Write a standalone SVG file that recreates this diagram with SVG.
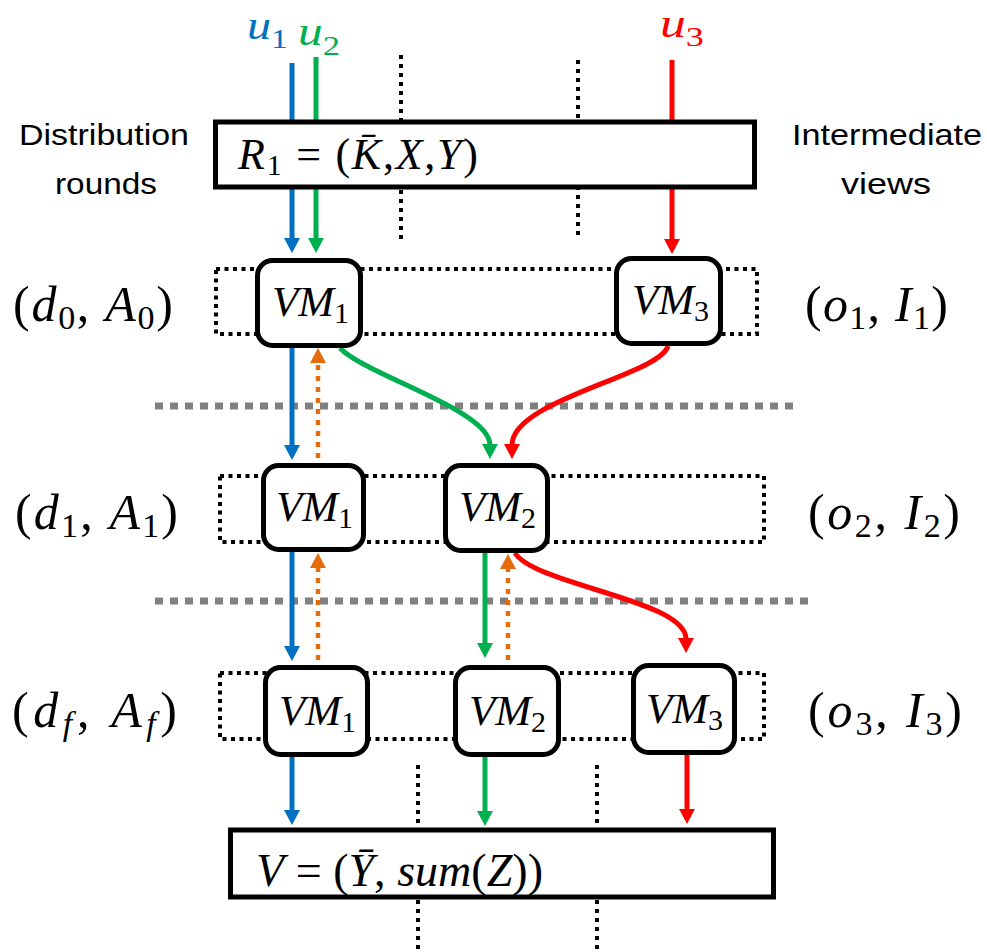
<svg xmlns="http://www.w3.org/2000/svg" width="987" height="952" viewBox="0 0 987 952">
<style>
.bg{fill:#fff}
.sep{stroke:#000;stroke-width:4;stroke-dasharray:4 5;fill:none}
.gray{stroke:#808080;stroke-width:7;stroke-dasharray:8 7;fill:none}
.frame{fill:none;stroke:#000;stroke-width:4;stroke-dasharray:4 4.5}
.box{fill:#fff;stroke:#000;stroke-width:5}
.vm{fill:#fff;stroke:#000;stroke-width:5}
.m{font-family:"Liberation Serif","Times New Roman",serif;fill:#000}
.i{font-style:italic}
.lbl{font-family:"Liberation Sans",Arial,sans-serif;font-size:30px;fill:#000}
.c{fill:none;stroke-width:5}
.cb{stroke:#0070C0}.cg{stroke:#00B050}.cr{stroke:#FF0000}
.co{stroke:#E46C0A;stroke-width:4.5;stroke-dasharray:5 6}
</style>
<defs>
<marker id="ab" markerUnits="userSpaceOnUse" viewBox="0 0 15 16" markerWidth="15" markerHeight="16" refX="1" refY="8" orient="auto"><path d="M0,0 L15,8 L0,16 z" fill="#0070C0"/></marker>
<marker id="ag" markerUnits="userSpaceOnUse" viewBox="0 0 15 16" markerWidth="15" markerHeight="16" refX="1" refY="8" orient="auto"><path d="M0,0 L15,8 L0,16 z" fill="#00B050"/></marker>
<marker id="ar" markerUnits="userSpaceOnUse" viewBox="0 0 15 16" markerWidth="15" markerHeight="16" refX="1" refY="8" orient="auto"><path d="M0,0 L15,8 L0,16 z" fill="#FF0000"/></marker>
<marker id="ao" markerUnits="userSpaceOnUse" viewBox="0 0 15 16" markerWidth="15" markerHeight="16" refX="1" refY="8" orient="auto"><path d="M0,0 L15,8 L0,16 z" fill="#E46C0A"/></marker>
</defs>
<rect class="bg" x="0" y="0" width="987" height="952"/>

<g id="separators">
<line class="sep" x1="401" y1="55" x2="401" y2="240"/>
<line class="sep" x1="578" y1="60" x2="578" y2="240"/>
<line class="sep" x1="418" y1="765" x2="418" y2="952"/>
<line class="sep" x1="597" y1="765" x2="597" y2="952"/>
<line class="gray" x1="155" y1="406" x2="795" y2="406"/>
<line class="gray" x1="155" y1="601" x2="810" y2="601"/>
</g>

<g id="frames">
<rect class="frame" x="216" y="269" width="541" height="65"/>
<rect class="frame" x="220" y="476" width="544" height="66"/>
<rect class="frame" x="220" y="673" width="544" height="66"/>
</g>

<g id="connectors">
<path class="c cb" d="M292,63 L292,239" marker-end="url(#ab)"/>
<path class="c cg" d="M316,57 L316,239" marker-end="url(#ag)"/>
<path class="c cr" d="M672,60 L672,240" marker-end="url(#ar)"/>
<path class="c cb" d="M292,348 L292,446" marker-end="url(#ab)"/>
<path class="c co" d="M318,458 L318,362" marker-end="url(#ao)"/>
<path class="c cg" d="M340,348 C365,375 490,410 490,445" marker-end="url(#ag)"/>
<path class="c cr" d="M668,346 C660,375 512,400 512,445" marker-end="url(#ar)"/>
<path class="c cb" d="M292,552 L292,647" marker-end="url(#ab)"/>
<path class="c co" d="M318,660 L318,567" marker-end="url(#ao)"/>
<path class="c cg" d="M485,553 L485,644" marker-end="url(#ag)"/>
<path class="c co" d="M508,660 L508,568" marker-end="url(#ao)"/>
<path class="c cr" d="M515,553 C535,585 686,600 686,639" marker-end="url(#ar)"/>
<path class="c cb" d="M292,757 L292,811" marker-end="url(#ab)"/>
<path class="c cg" d="M485,757 L485,812" marker-end="url(#ag)"/>
<path class="c cr" d="M687,755 L687,810" marker-end="url(#ar)"/>
</g>

<g id="inputs">
<text class="m" x="247" y="39" font-size="40" style="fill:#0070C0" textLength="41" lengthAdjust="spacingAndGlyphs"><tspan class="i">u</tspan><tspan font-size="28" dy="9">1</tspan></text>
<text class="m" x="298" y="45" font-size="40" style="fill:#00B050" textLength="42" lengthAdjust="spacingAndGlyphs"><tspan class="i">u</tspan><tspan font-size="28" dy="10">2</tspan></text>
<text class="m" x="660" y="37" font-size="40" style="fill:#FF0000" textLength="44" lengthAdjust="spacingAndGlyphs"><tspan class="i">u</tspan><tspan font-size="28" dy="9">3</tspan></text>
</g>

<g id="side-labels">
<text class="lbl" x="19" y="145" textLength="170" lengthAdjust="spacingAndGlyphs">Distribution</text>
<text class="lbl" x="55" y="194" textLength="102" lengthAdjust="spacingAndGlyphs">rounds</text>
<text class="lbl" x="792" y="145" textLength="190" lengthAdjust="spacingAndGlyphs">Intermediate</text>
<text class="lbl" x="841" y="194" textLength="90" lengthAdjust="spacingAndGlyphs">views</text>
</g>

<g id="round-labels">
<text class="m" x="13" y="321" font-size="50" textLength="160" lengthAdjust="spacing">(<tspan class="i">d</tspan><tspan font-size="34" dy="8">0</tspan><tspan dy="-8">, </tspan><tspan class="i">A</tspan><tspan font-size="34" dy="8">0</tspan><tspan dy="-8">)</tspan></text>
<text class="m" x="15" y="529" font-size="50" textLength="163" lengthAdjust="spacing">(<tspan class="i">d</tspan><tspan font-size="34" dy="8">1</tspan><tspan dy="-8">, </tspan><tspan class="i">A</tspan><tspan font-size="34" dy="8">1</tspan><tspan dy="-8">)</tspan></text>
<text class="m" x="12" y="727" font-size="50" textLength="165" lengthAdjust="spacing">(<tspan class="i">d</tspan><tspan class="i" font-size="34" dy="8">f</tspan><tspan dy="-8">, </tspan><tspan class="i">A</tspan><tspan class="i" font-size="34" dy="8">f</tspan><tspan dy="-8">)</tspan></text>
<text class="m" x="805" y="321" font-size="50" textLength="143" lengthAdjust="spacing">(<tspan class="i">o</tspan><tspan font-size="34" dy="8">1</tspan><tspan dy="-8">, </tspan><tspan class="i">I</tspan><tspan font-size="34" dy="8">1</tspan><tspan dy="-8">)</tspan></text>
<text class="m" x="808" y="529" font-size="50" textLength="152" lengthAdjust="spacing">(<tspan class="i">o</tspan><tspan font-size="34" dy="8">2</tspan><tspan dy="-8">, </tspan><tspan class="i">I</tspan><tspan font-size="34" dy="8">2</tspan><tspan dy="-8">)</tspan></text>
<text class="m" x="808" y="727" font-size="50" textLength="154" lengthAdjust="spacing">(<tspan class="i">o</tspan><tspan font-size="34" dy="8">3</tspan><tspan dy="-8">, </tspan><tspan class="i">I</tspan><tspan font-size="34" dy="8">3</tspan><tspan dy="-8">)</tspan></text>
</g>

<g id="R1">
<rect class="box" x="215.5" y="122" width="539" height="65"/>
<text class="m" x="238" y="169" font-size="44" textLength="240" lengthAdjust="spacing"><tspan class="i">R</tspan><tspan font-size="30" dy="6">1</tspan><tspan dy="-6"> = (</tspan><tspan class="i">K̄</tspan>,<tspan class="i">X</tspan>,<tspan class="i">Y</tspan>)</text>
</g>

<g id="r1-vm1">
<rect class="vm" x="257.5" y="260.5" width="103" height="85" rx="15"/>
<text class="m" x="272" y="316" font-size="43"><tspan class="i">VM</tspan><tspan font-size="30" dy="7">1</tspan></text>
</g>
<g id="r1-vm3">
<rect class="vm" x="616.5" y="258.5" width="104" height="85" rx="15"/>
<text class="m" x="632" y="314" font-size="43"><tspan class="i">VM</tspan><tspan font-size="30" dy="7">3</tspan></text>
</g>
<g id="r2-vm1">
<rect class="vm" x="263.5" y="465.5" width="100" height="84" rx="15"/>
<text class="m" x="276" y="521" font-size="43"><tspan class="i">VM</tspan><tspan font-size="30" dy="7">1</tspan></text>
</g>
<g id="r2-vm2">
<rect class="vm" x="445.5" y="465.5" width="102" height="85" rx="15"/>
<text class="m" x="459" y="521" font-size="43"><tspan class="i">VM</tspan><tspan font-size="30" dy="7">2</tspan></text>
</g>
<g id="r3-vm1">
<rect class="vm" x="265.5" y="667.5" width="102" height="87" rx="15"/>
<text class="m" x="279" y="725" font-size="43"><tspan class="i">VM</tspan><tspan font-size="30" dy="7">1</tspan></text>
</g>
<g id="r3-vm2">
<rect class="vm" x="455.5" y="667.5" width="103" height="87" rx="15"/>
<text class="m" x="469" y="725" font-size="43"><tspan class="i">VM</tspan><tspan font-size="30" dy="7">2</tspan></text>
</g>
<g id="r3-vm3">
<rect class="vm" x="633.5" y="665.5" width="101" height="87" rx="15"/>
<text class="m" x="646" y="723" font-size="43"><tspan class="i">VM</tspan><tspan font-size="30" dy="7">3</tspan></text>
</g>

<g id="V">
<rect class="box" x="230.5" y="830" width="543" height="67"/>
<text class="m" x="256" y="886" font-size="46" textLength="287" lengthAdjust="spacing"><tspan class="i">V</tspan> = (<tspan class="i">Ȳ</tspan>, <tspan class="i">sum</tspan>(<tspan class="i">Z</tspan>))</text>
</g>
</svg>
